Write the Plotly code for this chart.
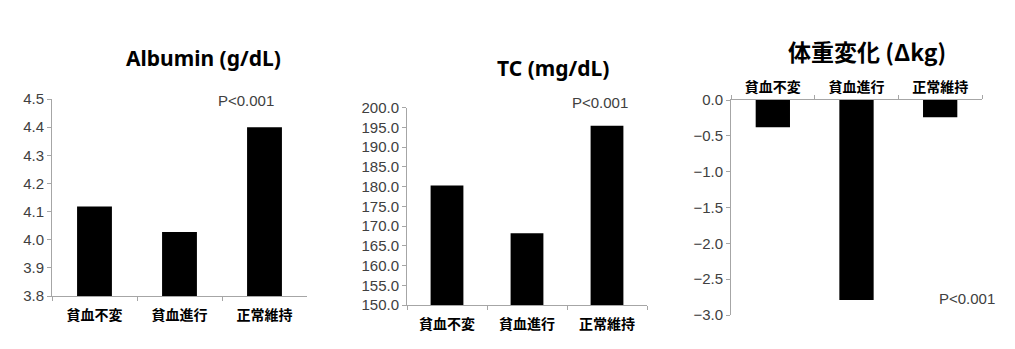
import plotly.graph_objects as go

categories = ["貧血不変", "貧血進行", "正常維持"]
albumin = [4.118, 4.027, 4.40]
tc = [180.3, 168.2, 195.4]
weight_change = [-0.38, -2.79, -0.24]

W, H = 1015, 349

def px_x(p):
    return p / W

def px_y(p):
    return 1 - p / H

fig = go.Figure()
fig.add_trace(go.Bar(x=categories, y=albumin, marker_color="black", xaxis="x", yaxis="y", showlegend=False))
fig.add_trace(go.Bar(x=categories, y=tc, marker_color="black", xaxis="x2", yaxis="y2", showlegend=False))
fig.add_trace(go.Bar(x=categories, y=weight_change, marker_color="black", xaxis="x3", yaxis="y3", showlegend=False))

tickfont = dict(family="Liberation Sans, Arial", size=15, color="#404040")
catfont = dict(family="Noto Sans CJK JP", size=14, color="black")
axcol = "#a6a6a6"
cat_text = ["<b>%s</b>" % c for c in categories]

def xax(domain, anchor, side="bottom", standoff=6):
    return dict(domain=domain, anchor=anchor, showline=True, linecolor=axcol, linewidth=1,
                ticks="outside", tickson="boundaries", ticklen=4, tickcolor=axcol,
                tickfont=catfont, tickvals=categories, ticktext=cat_text, side=side,
                showgrid=False, zeroline=False, automargin=False, ticklabelstandoff=standoff)

def yax(domain, anchor, rng, dtick):
    return dict(domain=domain, anchor=anchor, range=rng, dtick=dtick, tick0=rng[0],
                tickformat=".1f", showline=True, linecolor=axcol, linewidth=1,
                ticks="outside", ticklen=4, tickcolor=axcol, tickfont=tickfont,
                showgrid=False, zeroline=False, automargin=False)

fig.update_layout(
    template="none",
    width=W, height=H,
    margin=dict(l=0, r=0, t=0, b=0),
    paper_bgcolor="white", plot_bgcolor="white",
    bargap=0.59,
    xaxis=xax([px_x(52), px_x(307)], "y"),
    yaxis=yax([px_y(296), px_y(99)], "x", [3.8, 4.5], 0.1),
    xaxis2=xax([px_x(407), px_x(647)], "y2"),
    yaxis2=yax([px_y(305), px_y(107.7)], "x2", [150, 200], 5),
    xaxis3=xax([px_x(731), px_x(982)], "y3", side="top", standoff=1),
    yaxis3=yax([px_y(315), px_y(100)], "x3", [-3.0, 0.0], 0.5),
)

titlefont = dict(family="Noto Sans, Noto Sans CJK JP", size=21, color="black")
ann = [
    dict(text="<b>Albumin (g/dL)</b>", x=px_x(203), y=px_y(58), font=titlefont),
    dict(text="<b>TC (mg/dL)</b>", x=px_x(553), y=px_y(68), font=titlefont),
    dict(text="<b>体重変化 (Δkg)</b>", x=px_x(867), y=px_y(51), font=dict(family="Noto Sans CJK JP", size=23, color="black")),
    dict(text="P<0.001", x=px_x(246), y=px_y(101), font=tickfont),
    dict(text="P<0.001", x=px_x(600), y=px_y(102), font=tickfont),
    dict(text="P<0.001", x=px_x(967), y=px_y(298), font=tickfont),
]
for a in ann:
    a.update(xref="paper", yref="paper", xanchor="center", yanchor="middle", showarrow=False)
fig.update_layout(annotations=ann)

fig.write_html("out.html")
